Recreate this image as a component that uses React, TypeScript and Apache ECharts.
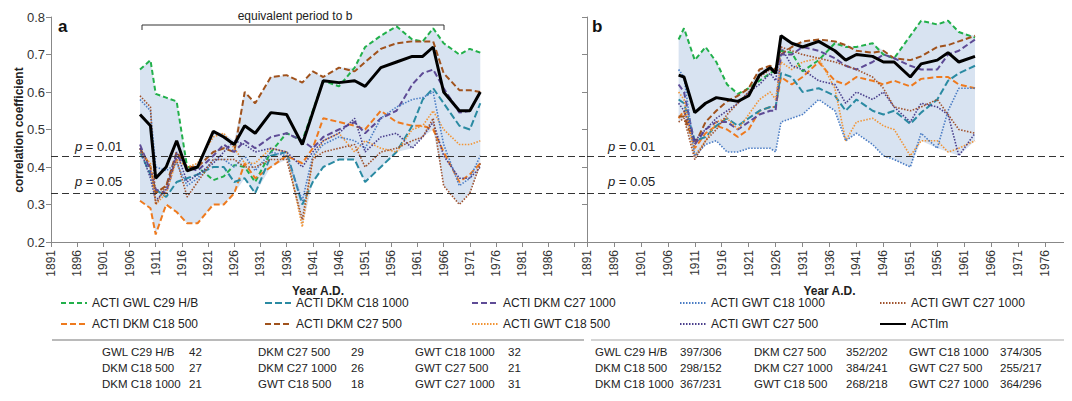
import React, { useRef, useEffect } from 'react';
import * as echarts from 'echarts';

const YEARS_A = [1908, 1910, 1911, 1913, 1915, 1917, 1919, 1922, 1924, 1926, 1928, 1930, 1933, 1936, 1939, 1941, 1943, 1946, 1949, 1951, 1954, 1957, 1960, 1962, 1964, 1966, 1969, 1971, 1973];
const YEARS_B = [1908, 1909, 1911, 1913, 1915, 1917, 1919, 1921, 1923, 1925, 1926, 1927, 1929, 1931, 1934, 1937, 1939, 1941, 1944, 1946, 1948, 1951, 1953, 1956, 1958, 1960, 1963];

const NAMES = [
  'ACTI GWL C29 H/B', 'ACTI DKM C18 500', 'ACTI DKM C18 1000', 'ACTI DKM C27 500', 'ACTI DKM C27 1000',
  'ACTI GWT C18 500', 'ACTI GWT C18 1000', 'ACTI GWT C27 500', 'ACTI GWT C27 1000', 'ACTIm',
];

// panel a
const A_GWL_C29 = [.66, .685, .595, .585, .575, .40, .40, .365, .375, .405, .40, .36, .44, .49, .47, .55, .63, .615, .665, .72, .75, .775, .74, .735, .77, .73, .70, .715, .705];
const A_DKM_C18_500 = [.31, .29, .22, .30, .28, .25, .25, .30, .30, .33, .41, .37, .40, .43, .41, .45, .53, .52, .51, .50, .55, .52, .51, .51, .50, .44, .36, .38, .41];
const A_DKM_C18_1000 = [.44, .38, .34, .32, .36, .37, .38, .40, .40, .36, .37, .33, .43, .44, .30, .36, .40, .42, .42, .36, .40, .44, .51, .58, .61, .57, .51, .50, .57];
const A_DKM_C27_500 = [.45, .40, .33, .35, .44, .40, .40, .44, .45, .44, .60, .57, .64, .645, .625, .655, .64, .665, .655, .68, .715, .73, .735, .735, .735, .65, .605, .605, .60];
const A_DKM_C27_1000 = [.46, .39, .34, .33, .43, .40, .39, .43, .46, .44, .47, .45, .48, .49, .47, .45, .48, .50, .52, .49, .53, .55, .62, .65, .66, .61, .545, .55, .60];
const A_GWT_C18_500 = [.44, .41, .30, .33, .42, .40, .41, .48, .49, .45, .41, .41, .45, .44, .24, .42, .47, .49, .44, .47, .45, .44, .50, .51, .55, .50, .46, .46, .47];
const A_GWT_C18_1000 = [.58, .55, .40, .39, .41, .35, .37, .42, .42, .40, .43, .39, .44, .43, .31, .43, .46, .48, .47, .45, .53, .56, .58, .585, .60, .46, .35, .37, .43];
const A_GWT_C27_500 = [.45, .37, .31, .34, .44, .36, .38, .41, .44, .47, .46, .44, .45, .44, .40, .44, .47, .49, .53, .44, .48, .49, .45, .48, .52, .43, .37, .37, .40];
const A_GWT_C27_1000 = [.59, .56, .30, .35, .42, .32, .36, .42, .42, .42, .40, .40, .42, .42, .26, .42, .44, .45, .46, .40, .44, .45, .47, .48, .53, .35, .30, .33, .41];
const A_ACTIM = [.54, .51, .37, .40, .47, .39, .40, .495, .48, .46, .51, .49, .545, .54, .46, .545, .63, .625, .63, .615, .665, .68, .695, .695, .72, .60, .55, .55, .60];

// panel b
const B_GWL_C29 = [.74, .77, .685, .72, .68, .62, .595, .61, .63, .65, .66, .71, .705, .655, .685, .73, .72, .72, .73, .70, .69, .75, .79, .78, .79, .76, .745];
const B_DKM_C18_500 = [.53, .55, .45, .49, .51, .50, .48, .50, .55, .56, .56, .64, .62, .64, .68, .63, .62, .64, .63, .62, .63, .615, .635, .64, .64, .62, .61];
const B_DKM_C18_1000 = [.58, .57, .47, .48, .51, .53, .51, .53, .55, .56, .56, .65, .64, .60, .61, .59, .55, .58, .55, .54, .55, .515, .545, .58, .63, .65, .67];
const B_DKM_C27_500 = [.535, .535, .46, .52, .55, .575, .59, .61, .66, .67, .66, .70, .72, .735, .74, .735, .725, .71, .705, .71, .69, .685, .695, .72, .725, .735, .75];
const B_DKM_C27_1000 = [.62, .60, .46, .50, .52, .52, .50, .52, .54, .55, .55, .70, .70, .72, .71, .69, .67, .66, .68, .70, .69, .67, .66, .66, .70, .71, .74];
const B_GWT_C18_500 = [.60, .58, .43, .47, .52, .53, .50, .54, .58, .60, .58, .68, .66, .68, .69, .61, .47, .52, .53, .51, .50, .43, .47, .47, .44, .45, .47];
const B_GWT_C18_1000 = [.66, .64, .43, .46, .47, .44, .44, .45, .45, .45, .44, .52, .53, .54, .58, .55, .47, .49, .46, .43, .42, .40, .49, .45, .55, .61, .61];
const B_GWT_C27_500 = [.57, .55, .47, .50, .53, .55, .57, .60, .62, .65, .63, .72, .67, .66, .63, .62, .57, .60, .58, .60, .56, .52, .57, .56, .54, .43, .49];
const B_GWT_C27_1000 = [.52, .53, .42, .47, .50, .54, .57, .60, .64, .66, .65, .72, .71, .70, .69, .68, .67, .66, .64, .61, .56, .55, .56, .58, .54, .50, .49];
const B_ACTIM = [.645, .64, .545, .57, .585, .58, .575, .59, .645, .665, .65, .75, .73, .72, .735, .71, .685, .70, .695, .68, .68, .64, .675, .685, .705, .68, .695];

const P_LINES = [0.43, 0.333];
const TABLE_A = [
  ['GWL C29 H/B', '42', 'DKM C27 500', '29', 'GWT C18 1000', '32'],
  ['DKM C18 500', '27', 'DKM C27 1000', '26', 'GWT C27 500', '21'],
  ['DKM C18 1000', '21', 'GWT C18 500', '18', 'GWT C27 1000', '31'],
];
const TABLE_B = [
  ['GWL C29 H/B', '397/306', 'DKM C27 500', '352/202', 'GWT C18 1000', '374/305'],
  ['DKM C18 500', '298/152', 'DKM C27 1000', '384/241', 'GWT C27 500', '255/217'],
  ['DKM C18 1000', '367/231', 'GWT C18 500', '268/218', 'GWT C27 1000', '364/296'],
];

const STYLES = [
  { color: '#22b04b', type: [5, 3], width: 2 },
  { color: '#ee7a1e', type: [6, 3], width: 2 },
  { color: '#2a8aa2', type: [7, 3], width: 2 },
  { color: '#a0521c', type: [6, 3], width: 2 },
  { color: '#5e4b96', type: [6, 3], width: 2 },
  { color: '#f29434', type: [1.5, 1.5], width: 1.6 },
  { color: '#4a7cc4', type: [1.5, 1.5], width: 1.6 },
  { color: '#4a3f8c', type: [1.5, 1.5], width: 1.6 },
  { color: '#a0522d', type: [1.5, 1.5], width: 1.6 },
  { color: '#000000', type: 'solid', width: 3 },
];

const FONT = '"Liberation Sans", Arial, sans-serif';

function panelSeries(years: number[], sets: number[][], idx: number) {
  const lo = years.map((_, i) => Math.min(...sets.map((s) => s[i])));
  const hi = years.map((_, i) => Math.max(...sets.map((s) => s[i])));
  const out: any[] = [
    {
      type: 'custom', xAxisIndex: idx, yAxisIndex: idx, silent: true, z: 1,
      data: years.map((y, i) => [y, lo[i], hi[i]]),
      renderItem: (params: any, api: any) => {
        if (params.dataIndex !== 0) return null;
        const top = years.map((y, i) => api.coord([y, hi[i]]));
        const bot = years.map((y, i) => api.coord([y, lo[i]])).reverse();
        return { type: 'polygon', shape: { points: [...top, ...bot] }, style: { fill: '#d8e3f1' } };
      },
      markLine: {
        silent: true, symbol: 'none', label: { show: false },
        lineStyle: { color: '#333', type: [7, 4], width: 1 },
        data: P_LINES.map((v) => ({ yAxis: v })),
      },
    },
  ];
  sets.forEach((s, k) => {
    out.push({
      name: NAMES[k], type: 'line', xAxisIndex: idx, yAxisIndex: idx, symbol: 'none',
      lineStyle: { color: STYLES[k].color, type: STYLES[k].type as any, width: STYLES[k].width },
      itemStyle: { color: STYLES[k].color },
      z: k === 9 ? 5 : 3,
      data: years.map((y, i) => [y, s[i]]),
    });
  });
  return out;
}

const App = () => {
  const chartRef = useRef<HTMLDivElement>(null);

  useEffect(() => {
    const chart = echarts.init(chartRef.current, null, { renderer: 'svg' });
    const setsA = [A_GWL_C29, A_DKM_C18_500, A_DKM_C18_1000, A_DKM_C27_500, A_DKM_C27_1000, A_GWT_C18_500, A_GWT_C18_1000, A_GWT_C27_500, A_GWT_C27_1000, A_ACTIM];
    const setsB = [B_GWL_C29, B_DKM_C18_500, B_DKM_C18_1000, B_DKM_C27_500, B_DKM_C27_1000, B_GWT_C18_500, B_GWT_C18_1000, B_GWT_C27_500, B_GWT_C27_1000, B_ACTIM];

    const xAxis = (i: number, max: number, lastLabel: number) => ({
      type: 'value', gridIndex: i, min: 1891, max, interval: 5,
      name: 'Year A.D.', nameLocation: 'middle', nameGap: 40,
      nameTextStyle: { fontFamily: FONT, fontWeight: 'bold', fontSize: 12, color: '#222' },
      splitLine: { show: false },
      axisLine: { lineStyle: { color: '#888' } },
      axisTick: { lineStyle: { color: '#888' } },
      axisLabel: { rotate: 90, fontFamily: FONT, fontSize: 12, color: '#333',
        showMaxLabel: false, formatter: (v: number) => (v > lastLabel ? '' : String(v)) },
    });
    const yAxis = (i: number, labels: boolean) => ({
      type: 'value', gridIndex: i, min: 0.2, max: 0.8, interval: 0.1,
      splitLine: { show: false },
      axisLine: { show: true, lineStyle: { color: '#888' } },
      axisTick: { show: true, lineStyle: { color: '#888' } },
      axisLabel: { show: labels, margin: 6, fontFamily: FONT, fontSize: 13, color: '#333',
        formatter: (v: number) => v.toFixed(1) },
    });

    const legendCols = [[0, 1], [2, 3], [4, 5], [6, 7], [8, 9]];
    const legendLeft = [55, 259, 466, 674, 874];

    const graphic: any[] = [
      { type: 'text', x: 19, y: 130, rotation: Math.PI / 2,
        style: { text: 'correlation coefficient', font: `bold 12px ${FONT}`, fill: '#222',
          textAlign: 'center', textVerticalAlign: 'middle' } },
      { type: 'text', left: 58, top: 18, style: { text: 'a', font: `bold 17px ${FONT}`, fill: '#111' } },
      { type: 'text', left: 592, top: 18, style: { text: 'b', font: `bold 17px ${FONT}`, fill: '#111' } },
      { type: 'polyline', shape: { points: [[142, 30], [142, 25], [444, 25], [444, 30]] },
        style: { stroke: '#333', lineWidth: 1, fill: 'none' } },
      { type: 'text', x: 295, y: 10, style: { text: 'equivalent period to b', font: `12px ${FONT}`, fill: '#222', textAlign: 'center' } },
      { type: 'line', shape: { x1: 52, y1: 340, x2: 584, y2: 340 }, style: { stroke: '#777', lineWidth: 1.2 } },
      { type: 'line', shape: { x1: 591, y1: 340, x2: 1066, y2: 340 }, style: { stroke: '#aaa', lineWidth: 1.2 } },
    ];
    [75, 608].forEach((x) => {
      graphic.push({ type: 'text', x, y: 140, style: { text: '{i|p} = 0.01', font: `13px ${FONT}`, fill: '#222',
        rich: { i: { fontStyle: 'italic', fontSize: 13, fontFamily: FONT } } } });
      graphic.push({ type: 'text', x, y: 175, style: { text: '{i|p} = 0.05', font: `13px ${FONT}`, fill: '#222',
        rich: { i: { fontStyle: 'italic', fontSize: 13, fontFamily: FONT } } } });
    });
    const tableCols = (rows: string[][], xs: number[]) => {
      rows.forEach((row, r) => {
        row.forEach((cell, c) => {
          graphic.push({ type: 'text', x: xs[c], y: 346 + r * 16,
            style: { text: cell, font: `11.5px ${FONT}`, fill: '#222' } });
        });
      });
    };
    tableCols(TABLE_A, [102, 189, 258, 351, 415, 508]);
    tableCols(TABLE_B, [595, 680, 754, 846, 909, 1000]);

    const option = {
      animation: false,
      grid: [
        { left: 51, top: 17, width: 534, height: 225 },
        { left: 587, top: 17, width: 485, height: 225 },
      ],
      xAxis: [xAxis(0, 1993, 1986), xAxis(1, 1981, 1976)],
      yAxis: [yAxis(0, true), yAxis(1, false)],
      legend: legendCols.map((col, i) => ({
        orient: 'vertical', left: legendLeft[i], top: 292, itemGap: 9,
        itemWidth: 26, itemHeight: 10,
        itemStyle: { opacity: 0 },
        textStyle: { fontFamily: FONT, fontSize: 12, color: '#222' },
        data: col.map((k) => NAMES[k]),
      })),
      graphic,
      series: [...panelSeries(YEARS_A, setsA, 0), ...panelSeries(YEARS_B, setsB, 1)],
    };
    chart.setOption(option);
    return () => chart.dispose();
  }, []);

  return <div ref={chartRef} style={{ width: '1072px', height: '401px', margin: '-8px' }} />;
};

export default App;
